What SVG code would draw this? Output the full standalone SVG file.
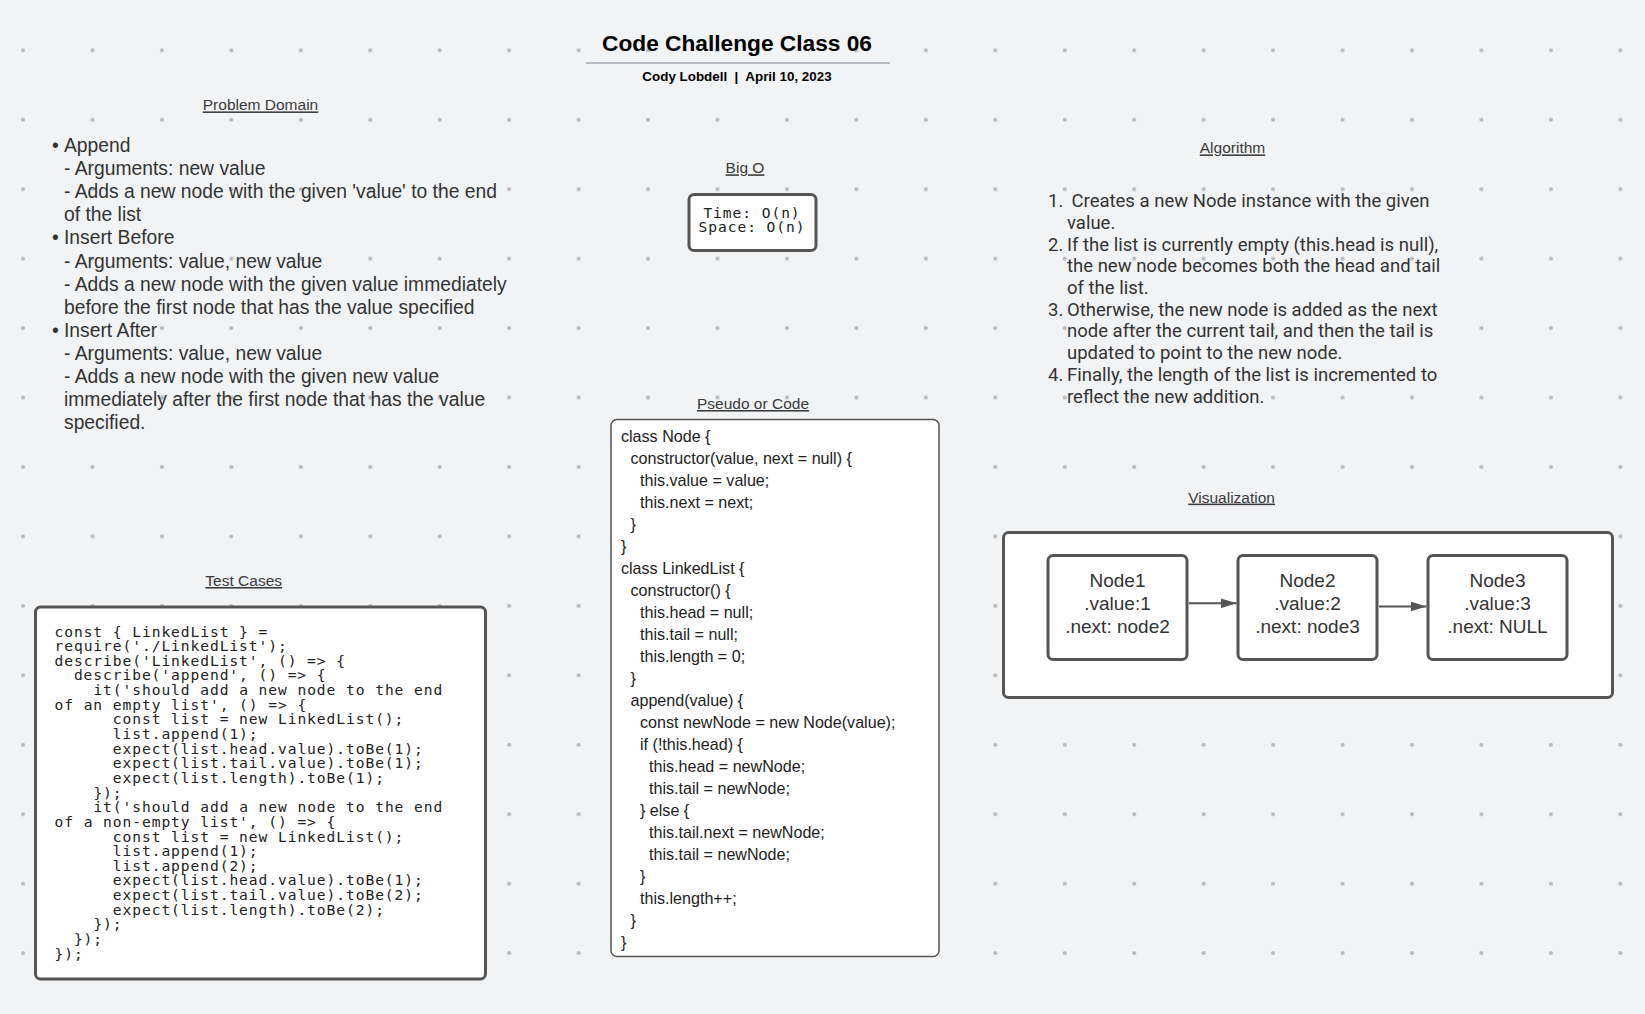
<svg xmlns="http://www.w3.org/2000/svg" width="1645" height="1014" viewBox="0 0 1645 1014">
<defs>
<pattern id="grid" x="23" y="50.3" width="69.45" height="69.45" patternUnits="userSpaceOnUse">
<circle cx="0" cy="0" r="2.1" fill="#b6b9be"/>
<circle cx="69.45" cy="0" r="2.1" fill="#b6b9be"/>
<circle cx="0" cy="69.45" r="2.1" fill="#b6b9be"/>
<circle cx="69.45" cy="69.45" r="2.1" fill="#b6b9be"/>
</pattern>
<marker id="arrow" viewBox="0 0 16 10" refX="16" refY="5" markerWidth="16" markerHeight="10" markerUnits="userSpaceOnUse" orient="auto">
<path d="M0,0 L16,5 L0,10 Z" fill="#555"/>
</marker>
<style>
.heading{font-family:"Liberation Sans",Arial,sans-serif;font-size:15.5px;fill:#3a3a3a;text-decoration:underline;text-anchor:middle}
.pd{font-family:"Liberation Sans",Arial,sans-serif;font-size:19.3px;fill:#333}
.alg{font-family:Roboto,"Liberation Sans",sans-serif;font-size:18.5px;fill:#333}
.mono{font-family:"DejaVu Sans Mono",monospace;font-size:14.6px;letter-spacing:0.93px;fill:#222}
.code{font-family:"Liberation Sans",Arial,sans-serif;font-size:16.1px;fill:#222}
.node{font-family:"Liberation Sans",Arial,sans-serif;font-size:19px;fill:#333;text-anchor:middle}
.box{fill:#fff;stroke:#555;stroke-width:3}
.conn{stroke:#555;stroke-width:2;fill:none}
</style>
</defs>
<rect x="0" y="0" width="1645" height="1014" fill="#f2f3f5"/>
<rect x="0" y="0" width="1645" height="1014" fill="url(#grid)"/>

<g id="title">
<text x="737" y="51" font-family="Liberation Sans,Arial,sans-serif" font-size="22.7" font-weight="bold" fill="#000" text-anchor="middle">Code Challenge Class 06</text>
<line x1="586" y1="63" x2="890" y2="63" stroke="#a3a9b1" stroke-width="1.5"/>
<text x="737" y="81.3" font-family="Liberation Sans,Arial,sans-serif" font-size="13.4" font-weight="bold" fill="#000" text-anchor="middle" xml:space="preserve">Cody Lobdell  |  April 10, 2023</text>
</g>

<g id="problem-domain">
<text class="heading" x="260.5" y="110.4">Problem Domain</text>
<text class="pd" x="52" y="152">•</text>
<text class="pd" x="64" y="152">Append</text>
<text class="pd" x="64" y="175.1">- Arguments: new value</text>
<text class="pd" x="64" y="198.2">- Adds a new node with the given 'value' to the end</text>
<text class="pd" x="64" y="221.3">of the list</text>
<text class="pd" x="52" y="244.4">•</text>
<text class="pd" x="64" y="244.4">Insert Before</text>
<text class="pd" x="64" y="267.5">- Arguments: value, new value</text>
<text class="pd" x="64" y="290.6">- Adds a new node with the given value immediately</text>
<text class="pd" x="64" y="313.7">before the first node that has the value specified</text>
<text class="pd" x="52" y="336.8">•</text>
<text class="pd" x="64" y="336.8">Insert After</text>
<text class="pd" x="64" y="359.9">- Arguments: value, new value</text>
<text class="pd" x="64" y="383">- Adds a new node with the given new value</text>
<text class="pd" x="64" y="406.1">immediately after the first node that has the value</text>
<text class="pd" x="64" y="429.2">specified.</text>
</g>

<g id="big-o">
<text class="heading" x="745" y="173.3">Big O</text>
<rect class="box" x="689" y="194.5" width="127" height="56" rx="5"/>
<text class="mono" x="752" y="217.5" text-anchor="middle">Time: O(n)</text>
<text class="mono" x="752" y="232.2" text-anchor="middle">Space: O(n)</text>
</g>

<g id="algorithm">
<text class="heading" x="1232.5" y="153.4">Algorithm</text>
<text class="alg" x="1048" y="207.2">1.</text>
<text class="alg" x="1071.5" y="207.2">Creates a new Node instance with the given</text>
<text class="alg" x="1067" y="228.9">value.</text>
<text class="alg" x="1048" y="250.6">2.</text>
<text class="alg" x="1067" y="250.6">If the list is currently empty (this.head is null),</text>
<text class="alg" x="1067" y="272.3">the new node becomes both the head and tail</text>
<text class="alg" x="1067" y="294">of the list.</text>
<text class="alg" x="1048" y="315.7">3.</text>
<text class="alg" x="1067" y="315.7">Otherwise, the new node is added as the next</text>
<text class="alg" x="1067" y="337.4">node after the current tail, and then the tail is</text>
<text class="alg" x="1067" y="359.1">updated to point to the new node.</text>
<text class="alg" x="1048" y="380.8">4.</text>
<text class="alg" x="1067" y="380.8">Finally, the length of the list is incremented to</text>
<text class="alg" x="1067" y="402.5">reflect the new addition.</text>
</g>

<g id="pseudo-code">
<text class="heading" x="753" y="409">Pseudo or Code</text>
<rect x="611" y="419.5" width="328" height="537" rx="6" fill="#fff" stroke="#555" stroke-width="1.5"/>
<text class="code" x="621" y="441.8">class Node {</text>
<text class="code" x="630.5" y="463.8">constructor(value, next = null) {</text>
<text class="code" x="640" y="485.8">this.value = value;</text>
<text class="code" x="640" y="507.8">this.next = next;</text>
<text class="code" x="630.5" y="529.8">}</text>
<text class="code" x="621" y="551.8">}</text>
<text class="code" x="621" y="573.8">class LinkedList {</text>
<text class="code" x="630.5" y="595.8">constructor() {</text>
<text class="code" x="640" y="617.8">this.head = null;</text>
<text class="code" x="640" y="639.8">this.tail = null;</text>
<text class="code" x="640" y="661.8">this.length = 0;</text>
<text class="code" x="630.5" y="683.8">}</text>
<text class="code" x="630.5" y="705.8">append(value) {</text>
<text class="code" x="640" y="727.8">const newNode = new Node(value);</text>
<text class="code" x="640" y="749.8">if (!this.head) {</text>
<text class="code" x="649" y="771.8">this.head = newNode;</text>
<text class="code" x="649" y="793.8">this.tail = newNode;</text>
<text class="code" x="640" y="815.8">} else {</text>
<text class="code" x="649" y="837.8">this.tail.next = newNode;</text>
<text class="code" x="649" y="859.8">this.tail = newNode;</text>
<text class="code" x="640" y="881.8">}</text>
<text class="code" x="640" y="903.8">this.length++;</text>
<text class="code" x="630.5" y="925.8">}</text>
<text class="code" x="621" y="947.8">}</text>
</g>

<g id="test-cases">
<text class="heading" x="243.7" y="586">Test Cases</text>
<rect class="box" x="35.5" y="607" width="450" height="372" rx="5"/>
<text class="mono" x="54.5" y="636.5">const { LinkedList } =</text>
<text class="mono" x="54.5" y="651.1">require('./LinkedList');</text>
<text class="mono" x="54.5" y="665.8">describe('LinkedList', () =&gt; {</text>
<text class="mono" x="73.9" y="680.4">describe('append', () =&gt; {</text>
<text class="mono" x="93.4" y="695.1">it('should add a new node to the end</text>
<text class="mono" x="54.5" y="709.7">of an empty list', () =&gt; {</text>
<text class="mono" x="112.8" y="724.3">const list = new LinkedList();</text>
<text class="mono" x="112.8" y="739">list.append(1);</text>
<text class="mono" x="112.8" y="753.6">expect(list.head.value).toBe(1);</text>
<text class="mono" x="112.8" y="768.3">expect(list.tail.value).toBe(1);</text>
<text class="mono" x="112.8" y="782.9">expect(list.length).toBe(1);</text>
<text class="mono" x="93.4" y="797.5">});</text>
<text class="mono" x="93.4" y="812.2">it('should add a new node to the end</text>
<text class="mono" x="54.5" y="826.8">of a non-empty list', () =&gt; {</text>
<text class="mono" x="112.8" y="841.5">const list = new LinkedList();</text>
<text class="mono" x="112.8" y="856.1">list.append(1);</text>
<text class="mono" x="112.8" y="870.7">list.append(2);</text>
<text class="mono" x="112.8" y="885.4">expect(list.head.value).toBe(1);</text>
<text class="mono" x="112.8" y="900">expect(list.tail.value).toBe(2);</text>
<text class="mono" x="112.8" y="914.7">expect(list.length).toBe(2);</text>
<text class="mono" x="93.4" y="929.3">});</text>
<text class="mono" x="73.9" y="943.9">});</text>
<text class="mono" x="54.5" y="958.6">});</text>
</g>

<g id="visualization">
<text class="heading" x="1231.6" y="502.6">Visualization</text>
<rect class="box" x="1003.5" y="532.5" width="609" height="165" rx="5"/>
</g>

<g id="node1">
<rect class="box" x="1048" y="555.5" width="139" height="104" rx="5"/>
<text class="node" x="1117.5" y="586.8">Node1</text>
<text class="node" x="1117.5" y="609.8">.value:1</text>
<text class="node" x="1117.5" y="632.8">.next: node2</text>
</g>
<g id="node2">
<rect class="box" x="1238" y="555.5" width="139" height="104" rx="5"/>
<text class="node" x="1307.5" y="586.8">Node2</text>
<text class="node" x="1307.5" y="609.8">.value:2</text>
<text class="node" x="1307.5" y="632.8">.next: node3</text>
</g>
<g id="node3">
<rect class="box" x="1428" y="555.5" width="139" height="104" rx="5"/>
<text class="node" x="1497.5" y="586.8">Node3</text>
<text class="node" x="1497.5" y="609.8">.value:3</text>
<text class="node" x="1497.5" y="632.8">.next: NULL</text>
</g>

<g id="connectors">
<line class="conn" x1="1189" y1="603.3" x2="1236.5" y2="603.3" marker-end="url(#arrow)"/>
<line class="conn" x1="1379" y1="606.5" x2="1426.5" y2="606.5" marker-end="url(#arrow)"/>
</g>
</svg>
